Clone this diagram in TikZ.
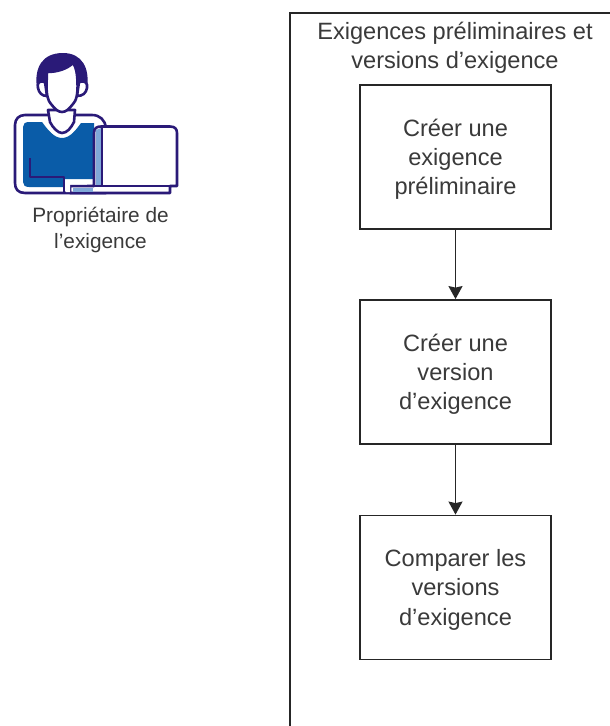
\documentclass[tikz,border=0pt]{standalone}
\usepackage{fontspec}
\setmainfont{Liberation Sans}
\usetikzlibrary{arrows.meta}
\definecolor{navy}{HTML}{2A1A78}
\definecolor{shirt}{HTML}{0A5CA8}
\definecolor{lightb}{HTML}{7FA8D8}
\definecolor{txt}{HTML}{3A3A3A}
\definecolor{edge}{HTML}{262626}
\newcommand{\topfix}{\rule{0pt}{21.5pt}}
\tikzset{
 stepbox/.style={draw=edge,line width=1.8pt,fill=white,minimum width=191pt,minimum height=144pt,inner sep=0pt,align=center,text=txt,font=\fontsize{23.6}{29.3}\selectfont},
 lbl/.style={align=center,text=txt,inner sep=0pt},
 conn/.style={draw=edge,line width=1.6pt,-{Stealth[length=13pt,width=14pt,inset=1.5pt]}},
 icon/.style={draw=navy,line width=2.6pt,line join=round,line cap=round}
}
\begin{document}
\begin{tikzpicture}[x=1pt,y=-1pt]
\useasboundingbox (0,0) rectangle (610,726);
\fill[white] (0,0) rectangle (610,726);
% container
\draw[draw=edge,line width=1.8pt] (290,726) -- (290,13) -- (610,13);
\node[lbl,font=\fontsize{23.6}{29.5}\selectfont] (title) at (455,48) {Exigences préliminaires et\\versions d’exigence};
% boxes
\node[stepbox] (a) at (455.5,157) {\topfix Créer une\\exigence\\préliminaire};
\node[stepbox] (b) at (455.5,372) {\topfix Créer une\\version\\d’exigence};
\node[stepbox] (c) at (455.5,587.5) {\topfix Comparer les\\versions\\d’exigence};
\draw[conn] (a) -- (b);
\draw[conn] (b) -- (c);
% body outline
\draw[icon,fill=white] (25,115) -- (92,115) .. controls (100,115) and (105,120) .. (106,128) -- (106,193) -- (25,193) .. controls (18,193) and (15,189) .. (15,183) -- (15,125) .. controls (15,119) and (19,115) .. (25,115) -- cycle;
% shirt
\fill[shirt] (29,122) -- (42,122) .. controls (48,130) and (54,138) .. (62,138) .. controls (70,138) and (76,130) .. (81,123) -- (94,123) -- (94,179) -- (63,179) -- (63,187) -- (29,187) .. controls (25,187) and (23,185) .. (23,182) -- (23,127) .. controls (23,124) and (25,122) .. (29,122) -- cycle;
% inner L line
\draw[icon,line width=2.3pt,line cap=butt] (30,158) -- (30,177) -- (64,177) -- (64,193);
% neck
\draw[icon,fill=white] (48,110) -- (50,122) .. controls (53,128) and (58,133) .. (62,133) .. controls (67,133) and (71,128) .. (74,122) -- (75,110) -- cycle;
% ears and hair
\fill[navy] (37,88) .. controls (34,68) and (42,53) .. (63,53) .. controls (82,53) and (90,68) .. (87,88) -- (72,80) -- (50,80) -- cycle;
\draw[icon,fill=white] (45,82) .. controls (39,80) and (37,83) .. (38,88) .. controls (39,93) and (42,96) .. (47,96) -- cycle;
\draw[icon,fill=white] (79,82) .. controls (85,80) and (88,83) .. (87,88) .. controls (86,93) and (83,96) .. (77,96) -- cycle;
% face
\draw[icon,fill=white] (47,72) .. controls (57,72) and (67,69) .. (73,63) .. controls (76,67) and (77,72) .. (77.5,82) .. controls (78,95) and (76,101) .. (73,104) .. controls (69,109) and (66,112) .. (62,112) .. controls (58,112) and (55,109) .. (51,104) .. controls (48,101) and (46.500,95) .. (46.500,85) -- cycle;
% laptop
\draw[icon,fill=white] (70,193) -- (70,186) -- (94,186) -- (94,133) .. controls (94,128) and (97,126.500) .. (101,126.500) -- (170,126.500) .. controls (175,126.500) and (177,129) .. (177,133) -- (177,186) -- (170,186) -- (170,193) -- cycle;
\fill[lightb] (96,130) -- (101,128) -- (101,185) -- (96,185) -- cycle;
\fill[lightb] (73,188) -- (93,188) -- (93,191.700) -- (73,191.700) -- cycle;
\draw[icon,line width=2pt,line cap=butt] (102,127) -- (102,186);
\draw[icon,line width=2pt,line cap=butt] (70,186) -- (177,186);
% notch in front of the shirt
\fill[white] (66,180.500) -- (83,180.500) .. controls (85,181) and (87,183) .. (87,184.700) -- (70,184.700) -- (70,192) -- (66,192) -- cycle;
\node[lbl,font=\fontsize{20.800}{26}\selectfont] (owner) at (100.500,229.500) {Propriétaire de\\l’exigence};
\end{tikzpicture}
\end{document}
